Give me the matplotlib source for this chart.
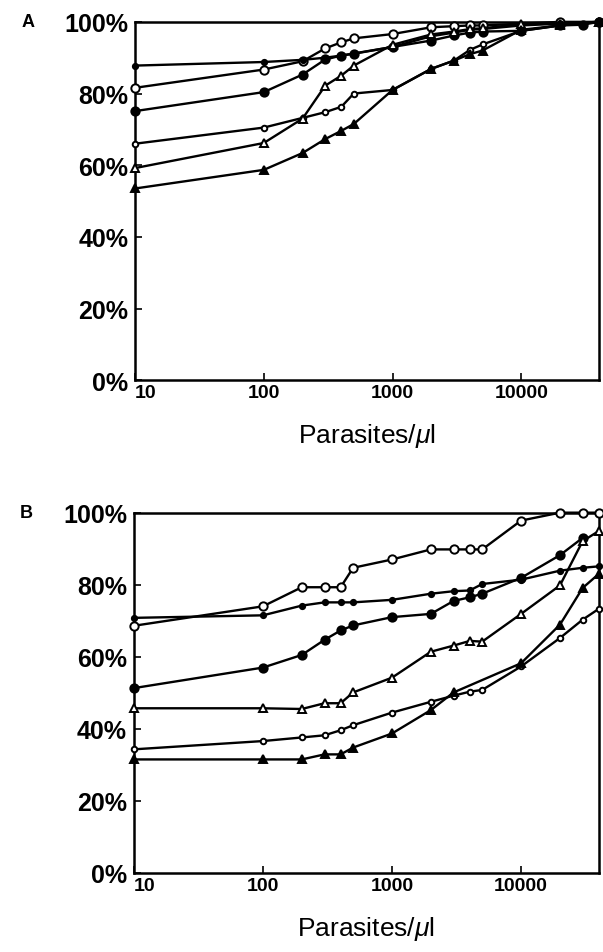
# plot.py
# Cumulative percentage vs parasite density, panels A and B

import matplotlib
matplotlib.use('Agg')
import matplotlib.pyplot as plt
from matplotlib.ticker import FixedLocator, NullLocator

plt.rcParams['font.family'] = ['Liberation Sans', 'DejaVu Sans']
plt.rcParams['mathtext.fontset'] = 'custom'
plt.rcParams['mathtext.rm'] = 'Liberation Sans'
plt.rcParams['mathtext.it'] = 'Liberation Sans:italic'

# ---- Panel A data ----
a_ofc_x = [10, 100, 200, 300, 400, 500, 1000, 2000, 3000, 4000, 5000, 20000, 40000]
a_ofc_y = [81.6, 86.7, 89.0, 92.6, 94.3, 95.4, 96.6, 98.5, 98.8, 99.0, 99.0, 100, 100]

a_sfc_x = [10, 100, 200, 300, 400, 1000, 2000, 3000, 4000, 5000, 10000, 20000, 40000]
a_sfc_y = [87.8, 88.8, 89.4, 90.0, 90.6, 93.0, 96.0, 97.0, 97.8, 98.0, 99.0, 99.5, 100]

a_lfc_x = [10, 100, 200, 300, 400, 500, 1000, 2000, 3000, 4000, 5000, 10000, 20000, 30000, 40000]
a_lfc_y = [75.1, 80.4, 85.3, 89.5, 90.6, 91.1, 93.0, 94.8, 96.2, 97.0, 97.3, 97.5, 99.0, 99.2, 100]

a_osc_x = [10, 100, 200, 300, 400, 500, 1000, 2000, 3000, 4000, 5000, 10000, 20000, 40000]
a_osc_y = [66.0, 70.5, 73.2, 74.8, 76.3, 80.0, 81.0, 86.9, 89.2, 92.2, 93.7, 97.5, 99.0, 100]

a_otr_x = [10, 100, 200, 300, 400, 500, 1000, 2000, 3000, 4000, 5000, 10000, 20000, 40000]
a_otr_y = [59.2, 66.2, 73.0, 82.2, 85.0, 87.8, 93.6, 96.5, 97.3, 98.0, 98.2, 99.4, 99.5, 100]

a_ftr_x = [10, 100, 200, 300, 400, 500, 1000, 2000, 3000, 4000, 5000, 10000, 20000, 40000]
a_ftr_y = [53.5, 58.7, 63.4, 67.3, 69.6, 71.5, 81.0, 86.9, 89.2, 91.0, 92.0, 97.8, 99.0, 100]

# ---- Panel B data ----
b_ofc_x = [10, 100, 200, 300, 400, 500, 1000, 2000, 3000, 4000, 5000, 10000, 20000, 30000, 40000]
b_ofc_y = [68.6, 74.0, 79.3, 79.3, 79.3, 84.7, 87.0, 89.8, 89.8, 89.8, 89.8, 97.8, 100, 100, 100]

b_sfc_x = [10, 100, 200, 300, 400, 500, 1000, 2000, 3000, 4000, 5000, 10000, 20000, 30000, 40000]
b_sfc_y = [70.8, 71.5, 74.2, 75.1, 75.1, 75.1, 75.8, 77.5, 78.2, 78.4, 80.2, 81.4, 83.9, 84.7, 85.1]

b_lfc_x = [10, 100, 200, 300, 400, 500, 1000, 2000, 3000, 4000, 5000, 10000, 20000, 30000]
b_lfc_y = [51.3, 57.0, 60.5, 64.7, 67.3, 68.7, 71.0, 71.9, 75.5, 76.5, 77.5, 81.9, 88.2, 93.0]

b_otr_x = [10, 100, 200, 300, 400, 500, 1000, 2000, 3000, 4000, 5000, 10000, 20000, 30000, 40000]
b_otr_y = [45.7, 45.7, 45.5, 47.1, 47.1, 50.1, 54.2, 61.4, 63.1, 64.4, 64.2, 71.9, 79.8, 92.1, 94.9]

b_osc_x = [10, 100, 200, 300, 400, 500, 1000, 2000, 3000, 4000, 5000, 10000, 20000, 30000, 40000]
b_osc_y = [34.3, 36.6, 37.6, 38.2, 39.6, 41.0, 44.5, 47.5, 49.2, 50.3, 50.8, 57.3, 65.2, 70.3, 73.3]

b_ftr_x = [10, 100, 200, 300, 400, 500, 1000, 2000, 3000, 10000, 20000, 30000, 40000]
b_ftr_y = [31.5, 31.5, 31.5, 32.9, 32.9, 34.8, 38.7, 45.2, 50.1, 58.2, 68.9, 79.1, 83.0]

X_TICKS = [10, 100, 1000, 10000]
X_TICK_LABELS = ['10', '100', '1000', '10000']
Y_TICKS = [0, 20, 40, 60, 80, 100]
Y_TICK_LABELS = ['0%', '20%', '40%', '60%', '80%', '100%']

# marker style per series: (marker, size, filled)
STYLES = {
    'ofc': ('o', 6.0, False),
    'sfc': ('o', 3.8, True),
    'lfc': ('o', 6.0, True),
    'osc': ('o', 4.0, False),
    'otr': ('^', 5.5, False),
    'ftr': ('^', 5.5, True),
}


def draw_series(ax, x, y, kind):
    marker, size, filled = STYLES[kind]
    ax.plot(x, y, color='black', lw=1.7, marker=marker, ms=size,
            mfc='black' if filled else 'white', mec='black', mew=1.4,
            clip_on=False, zorder=3)


def style_axes(ax, letter):
    ax.set_xscale('log')
    ax.set_xlim(10, 40000)
    ax.set_ylim(0, 100)
    ax.xaxis.set_major_locator(FixedLocator(X_TICKS))
    ax.xaxis.set_minor_locator(NullLocator())
    ax.set_xticklabels(X_TICK_LABELS, fontsize=14, fontweight='bold')
    ax.set_yticks(Y_TICKS)
    ax.set_yticklabels(Y_TICK_LABELS, fontsize=18, fontweight='bold')
    ax.tick_params(direction='in', length=5, width=1.2, pad=5)
    ax.tick_params(axis='x', pad=3)
    # the "10" label sits just right of the axis corner, clear of "0%"
    first = ax.get_xticklabels()[0]
    first.set_horizontalalignment('left')
    first.set_x(10)
    for s in ax.spines.values():
        s.set_linewidth(1.8)
    ax.set_xlabel(r'Parasites/$\mu$l', fontsize=19, labelpad=14)
    ax.text(-0.245, 1.0, letter, transform=ax.transAxes, fontsize=13,
            fontweight='bold', ha='left', va='center')


fig = plt.figure(figsize=(6.03, 9.53), dpi=100)
ax_a = fig.add_axes([0.224, 0.600, 0.769, 0.376])
ax_b = fig.add_axes([0.222, 0.083, 0.771, 0.378])

draw_series(ax_a, a_ofc_x, a_ofc_y, 'ofc')
draw_series(ax_a, a_sfc_x, a_sfc_y, 'sfc')
draw_series(ax_a, a_lfc_x, a_lfc_y, 'lfc')
draw_series(ax_a, a_osc_x, a_osc_y, 'osc')
draw_series(ax_a, a_otr_x, a_otr_y, 'otr')
draw_series(ax_a, a_ftr_x, a_ftr_y, 'ftr')

draw_series(ax_b, b_ofc_x, b_ofc_y, 'ofc')
draw_series(ax_b, b_sfc_x, b_sfc_y, 'sfc')
draw_series(ax_b, b_lfc_x, b_lfc_y, 'lfc')
draw_series(ax_b, b_otr_x, b_otr_y, 'otr')
draw_series(ax_b, b_osc_x, b_osc_y, 'osc')
draw_series(ax_b, b_ftr_x, b_ftr_y, 'ftr')

style_axes(ax_a, 'A')
style_axes(ax_b, 'B')

fig.savefig('out.png', dpi=100)
